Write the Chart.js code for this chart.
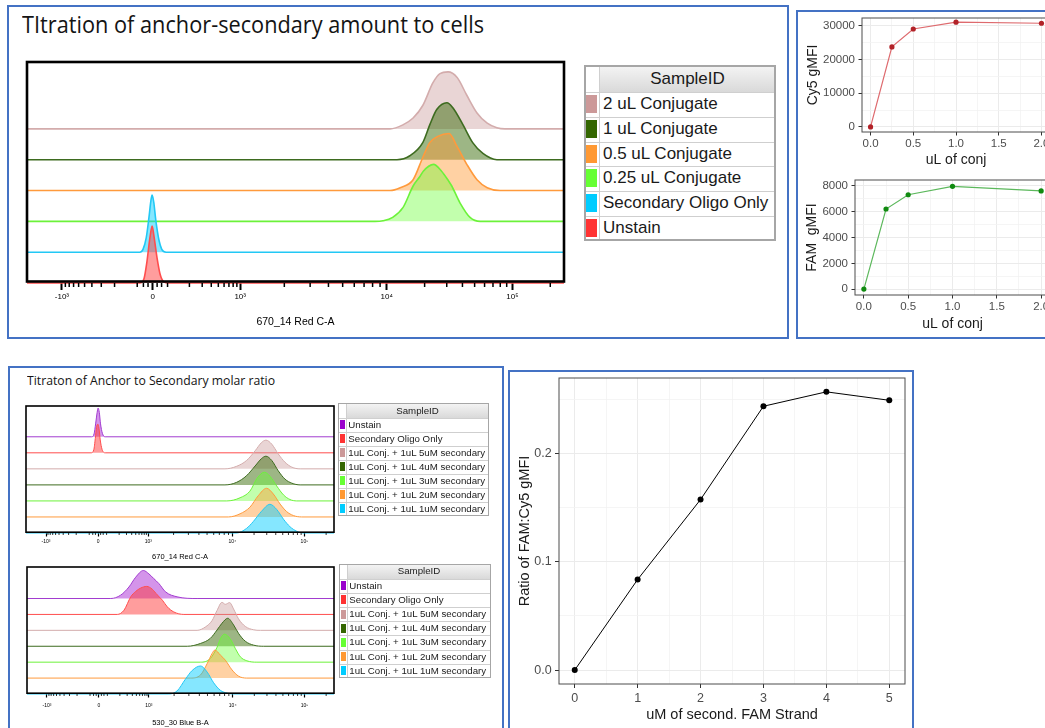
<!DOCTYPE html>
<html><head><meta charset="utf-8">
<script src="https://cdn.jsdelivr.net/npm/chart.js@4.4.1/dist/chart.umd.min.js"></script>
<style>
html,body{margin:0;padding:0;background:#fff;}
#page{position:relative;width:1045px;height:728px;overflow:hidden;background:#fff;font-family:'Liberation Sans',Arial,sans-serif;}
.box{position:absolute;box-sizing:border-box;border:2px solid #4472C4;}
canvas{position:absolute;}
.ttl{position:absolute;white-space:nowrap;font-family:'Open Sans',sans-serif;color:#141414;line-height:1;transform-origin:0 0;}
.lg{position:absolute;box-sizing:border-box;white-space:nowrap;}
</style></head>
<body><div id="page">
<div class="box" style="left:7px;top:5px;width:782px;height:334px"></div>
<div class="box" style="left:796px;top:10px;width:300px;height:329px"></div>
<div class="box" style="left:8px;top:366px;width:496px;height:400px"></div>
<div class="box" style="left:508px;top:370px;width:406px;height:400px"></div>
<div class="ttl" id="t1" style="left:22px;top:13px;font-size:23px">TItration of anchor-secondary amount to cells</div>
<div class="ttl" id="t2" style="left:27px;top:373.7px;font-size:13.5px">Titraton of Anchor to Secondary molar ratio</div>
</div>
<script>
// ===================== DATA =====================
// Flow histogram axis: display channels 0–1000 on a biexponential axis
const flowTickValues = [65, 234, 397, 670, 904];
const flowTickLabels = ['-10³', '0', '10³', '10⁴', '10⁵'];

// --- Top histogram: 670_14 Red C-A  (points: [channel, % of mode])
const topSampleIDs = ['2 uL Conjugate', '1 uL Conjugate', '0.5 uL Conjugate', '0.25 uL Conjugate', 'Secondary Oligo Only', 'Unstain'];
const top2uL = [[0,0],[676,0],[700,7],[719,19],[737,41],[756,81],[769,97],[784,100],[801,90],[819,59],[838,28],[857,10],[875,2],[890,0],[1000,0]];
const top1uL = [[0,0],[689,0],[713,7],[737,30],[750,61],[763,88],[782,100],[793,91],[812,61],[830,30],[849,11],[875,0],[1000,0]];
const top05uL = [[0,0],[676,0],[695,5],[719,19],[737,58],[750,84],[765,95],[786,100],[801,77],[819,46],[838,19],[857,5],[881,0],[1000,0]];
const top025uL = [[0,0],[648,0],[663,1],[681,7],[700,24],[719,62],[732,79],[738,88],[757,100],[772,88],[785,71],[791,62],[806,33],[825,7],[844,0],[1000,0]];
const topSecondary = [[0,0],[210,0],[216,5],[222,25],[227,60],[231,92],[233,100],[236,88],[240,55],[246,20],[251,5],[259,0],[1000,0]];
const topUnstain = [[0,0],[210,0],[218,8],[223,35],[229,80],[233,100],[236,85],[242,45],[248,15],[255,2],[263,0],[1000,0]];

// --- Bottom histograms: molar ratio titration
const ratioSampleIDs = ['Unstain', 'Secondary Oligo Only', '1uL Conj. + 1uL 5uM secondary', '1uL Conj. + 1uL 4uM secondary', '1uL Conj. + 1uL 3uM secondary', '1uL Conj. + 1uL 2uM secondary', '1uL Conj. + 1uL 1uM secondary'];
// 670_14 Red C-A
const redUnstain = [[0,0],[213,0],[221,10],[226,45],[231,85],[234,100],[238,85],[242,45],[248,12],[257,0],[1000,0]];
const redSecondary = [[0,0],[211,0],[220,10],[225,50],[229,88],[233,100],[237,85],[241,45],[247,12],[257,0],[1000,0]];
const red5uM = [[0,0],[646,0],[684,9],[716,29],[744,63],[765,92],[779,100],[798,86],[819,52],[841,23],[863,6],[890,0],[1000,0]];
const red4uM = [[0,0],[646,0],[684,9],[716,32],[744,66],[765,92],[779,100],[798,85],[819,49],[841,20],[863,6],[890,0],[1000,0]];
const red3uM = [[0,0],[652,0],[695,11],[727,34],[751,80],[774,100],[792,86],[814,52],[836,21],[857,5],[879,0],[1000,0]];
const red2uM = [[0,0],[657,0],[695,11],[727,34],[754,74],[781,100],[803,80],[825,45],[846,19],[868,5],[895,0],[1000,0]];
const red1uM = [[0,0],[684,0],[716,16],[738,40],[765,76],[792,100],[814,82],[836,48],[857,22],[879,6],[900,0],[1000,0]];
// 530_30 Blue B-A
const blueUnstain = [[0,0],[273,0],[305,12],[332,41],[354,76],[379,100],[397,88],[413,71],[430,53],[451,24],[489,6],[554,0],[1000,0]];
const blueSecondary = [[0,0],[294,0],[316,15],[338,63],[354,82],[370,94],[390,100],[408,90],[424,70],[441,51],[457,27],[478,9],[511,0],[1000,0]];
const blue5uM = [[0,0],[554,0],[581,12],[603,35],[619,71],[635,100],[646,93],[660,99],[673,76],[689,41],[711,14],[738,2],[760,0],[1000,0]];
const blue4uM = [[0,0],[522,0],[565,10],[597,28],[619,58],[635,82],[654,100],[673,76],[689,46],[711,18],[738,4],[771,0],[1000,0]];
const blue3uM = [[0,0],[565,0],[597,13],[619,53],[630,83],[643,100],[662,83],[679,48],[695,19],[716,5],[749,0],[1000,0]];
const blue2uM = [[0,0],[533,0],[565,11],[587,52],[603,88],[612,100],[630,82],[646,64],[668,29],[689,7],[716,0],[1000,0]];
const blue1uM = [[0,0],[462,0],[489,11],[516,53],[538,84],[565,100],[587,78],[608,40],[630,13],[652,3],[673,0],[1000,0]];

// --- gMFI summary plots
const conjAmounts = [0, 0.25, 0.5, 1, 2];
const cy5gMFI = [0, 23700, 29000, 31000, 30700];
const famgMFI = [20, 6200, 7300, 7950, 7600];
const conjTickLabels = ['0.0', '0.5', '1.0', '1.5', '2.0'];
const cy5TickLabels = ['0', '10000', '20000', '30000'];
const famTickLabels = ['0', '2000', '4000', '6000', '8000'];
// --- Ratio plot
const secondaryUM = [0, 1, 2, 3, 4, 5];
const famCy5Ratio = [0, 0.0837, 0.1576, 0.2438, 0.2571, 0.2493];
const uMTickLabels = ['0', '1', '2', '3', '4', '5'];
const ratioTickLabels = ['0.0', '0.1', '0.2'];

// ===================== STYLE =====================
const FONT = "'Liberation Sans', Arial, sans-serif";
const ST = {
  pink:   {line:'#D3ACAC', fill:'rgba(200,150,150,0.40)', sw:'#CC9999'},
  dkgreen:{line:'#3D6B1F', fill:'rgba(51,102,0,0.48)',   sw:'#336600'},
  orange: {line:'#FF9A3C', fill:'rgba(255,153,51,0.45)', sw:'#FF9933'},
  lgreen: {line:'#6CF23A', fill:'rgba(102,255,51,0.40)', sw:'#66FF33'},
  cyan:   {line:'#22C8F5', fill:'rgba(0,204,255,0.48)',  sw:'#00CCFF'},
  red:    {line:'#FF4D4D', fill:'rgba(255,51,51,0.48)',  sw:'#FF3333'},
  purple: {line:'#A23CD0', fill:'rgba(153,0,204,0.42)',  sw:'#9900CC'}
};

const page = document.getElementById('page');
function addCanvas(b) {
  const c = document.createElement('canvas');
  c.width = b.w; c.height = b.h;
  c.style.left = b.x + 'px'; c.style.top = b.y + 'px';
  c.style.width = b.w + 'px'; c.style.height = b.h + 'px';
  page.appendChild(c);
  return c;
}

function flowMinorTicks(t) {
  const [cn, c0, c3, c4, c5] = t;
  const out = [];
  const lin = 0.17;
  for (let k = 1; k <= 9; k++) {
    const f = k === 1 ? lin : lin + (1 - lin) * Math.log10(k);
    out.push(c0 + (c3 - c0) * f, c0 - (c0 - cn) * f);
  }
  [0.3, 0.6].forEach(f => out.push(c0 + (c3 - c0) * lin * f, c0 - (c0 - cn) * lin * f));
  for (let k = 2; k <= 9; k++) out.push(c3 + (c4 - c3) * Math.log10(k), c4 + (c5 - c4) * Math.log10(k));
  out.push(c5 + (c5 - c4) * Math.log10(2));
  return out.filter(v => v > 0 && v < 1000);
}

const flowFrame = {
  id: 'flowFrame',
  afterDraw(chart, args, o) {
    const {ctx, chartArea: a} = chart;
    const xs = chart.scales.x;
    ctx.save();
    ctx.strokeStyle = '#000';
    ctx.lineWidth = o.minorWidth;
    flowMinorTicks(flowTickValues).forEach(v => {
      const px = xs.getPixelForValue(v);
      ctx.beginPath(); ctx.moveTo(px, a.bottom); ctx.lineTo(px, a.bottom + o.minorLen); ctx.stroke();
    });
    ctx.lineWidth = o.frameWidth;
    ctx.strokeRect(a.left, a.top, a.right - a.left, a.bottom - a.top - o.inset);
    ctx.restore();
  }
};

function histogram(cfg) {
  const cv = addCanvas(cfg.box);
  new Chart(cv, {
    type: 'line',
    data: {datasets: cfg.series.map((s, i) => ({
      label: s.name,
      data: s.values.map(([x, p]) => ({x: x, y: i + p / 100 * cfg.peak})),
      borderColor: ST[s.color].line, backgroundColor: ST[s.color].fill,
      borderWidth: cfg.lw, fill: {value: i}, pointRadius: 0,
      cubicInterpolationMode: 'monotone', clip: 8
    }))},
    options: {
      animation: false, responsive: false, events: [], devicePixelRatio: 1,
      layout: {padding: cfg.pad},
      plugins: {legend: {display: false}, tooltip: {enabled: false},
        flowFrame: {minorLen: cfg.minorLen, minorWidth: cfg.minorWidth, frameWidth: cfg.frameWidth, inset: cfg.inset}},
      scales: {
        x: {type: 'linear', min: 0, max: 1000,
          afterBuildTicks: s => { s.ticks = flowTickValues.map(v => ({value: v})); },
          afterFit: s => { s.height = cfg.axisH; s.paddingLeft = 0; s.paddingRight = 0; },
          ticks: {autoSkip: false, maxRotation: 0, padding: cfg.tickPad, color: '#000',
            font: {family: FONT, size: cfg.tickFont}, callback: (v, i) => flowTickLabels[i]},
          grid: {drawOnChartArea: false, tickLength: cfg.tickLen, tickWidth: cfg.tickWidth, tickColor: '#000'},
          border: {display: false},
          title: {display: true, text: cfg.title, color: '#000', font: {family: FONT, size: cfg.titleFont},
            padding: {top: 0, bottom: cfg.titlePad}}
        },
        y: {display: false, min: 0, max: cfg.ymax}
      }
    },
    plugins: [flowFrame]
  });
}

const panelBorder = {
  id: 'panelBorder',
  afterDraw(chart) {
    const {ctx, chartArea: a} = chart;
    ctx.save(); ctx.strokeStyle = '#4D4D4D'; ctx.lineWidth = 1;
    ctx.strokeRect(a.left, a.top, a.right - a.left, a.bottom - a.top);
    ctx.restore();
  }
};

function ggChart(cfg) {
  const cv = addCanvas(cfg.box);
  const near = (list, v) => list.findIndex(m => Math.abs(m - v) < 1e-9);
  const axis = (a, pos) => ({
    type: 'linear', position: pos, min: a.min, max: a.max,
    afterBuildTicks: s => { s.ticks = a.major.concat(a.minor).sort((p, q) => p - q).map(v => ({value: v})); },
    afterFit: s => { if (pos === 'bottom') s.height = a.size; else s.width = a.size;
      s.paddingLeft = 0; s.paddingRight = 0; s.paddingTop = 0; s.paddingBottom = 0; },
    ticks: {autoSkip: false, maxRotation: 0, padding: a.pad, color: '#4D4D4D',
      font: {family: FONT, size: a.font},
      callback: v => { const i = near(a.major, v); return i < 0 ? '' : a.labels[i]; }},
    grid: {color: c => near(a.major, c.tick.value) >= 0 ? '#EBEBEB' : '#F3F3F3',
      lineWidth: c => near(a.major, c.tick.value) >= 0 ? 1 : 0.8,
      tickLength: a.tickLen, tickWidth: 1,
      tickColor: c => near(a.major, c.tick.value) >= 0 ? '#333333' : 'rgba(0,0,0,0)'},
    border: {display: false},
    title: {display: true, text: a.title, color: '#1A1A1A', font: {family: FONT, size: a.titleFont},
      padding: {top: a.titlePad, bottom: a.titlePad}}
  });
  new Chart(cv, {
    type: 'line',
    data: {datasets: [{
      data: cfg.xs.map((x, i) => ({x: x, y: cfg.ys[i]})),
      borderColor: cfg.line, borderWidth: cfg.lw, backgroundColor: cfg.point,
      pointBackgroundColor: cfg.point, pointBorderWidth: 0, pointRadius: cfg.pr,
      fill: false, tension: 0, clip: 6
    }]},
    options: {
      animation: false, responsive: false, events: [], devicePixelRatio: 1,
      layout: {padding: cfg.pad},
      plugins: {legend: {display: false}, tooltip: {enabled: false}},
      scales: {x: axis(cfg.x, 'bottom'), y: axis(cfg.y, 'left')}
    },
    plugins: [panelBorder]
  });
}

function box(x, y, w, h, css) {
  const d = document.createElement('div');
  d.className = 'lg';
  d.style.left = x + 'px'; d.style.top = y + 'px'; d.style.width = w + 'px'; d.style.height = h + 'px';
  Object.assign(d.style, css || {});
  page.appendChild(d);
  return d;
}

function sampleLegend(L, names, colors) {
  const h = L.head + names.length * L.row;
  box(L.x, L.y, L.w, h, {background: '#fff'});
  const hd = box(L.x + L.sw, L.y, L.w - L.sw, L.head, {background: 'linear-gradient(#F5F5F5,#D9D9D9)',
    textAlign: 'center', lineHeight: L.head + 'px', fontSize: L.font + 'px', color: '#1a1a1a'});
  hd.textContent = 'SampleID';
  names.forEach((n, i) => {
    const top = L.y + L.head + i * L.row;
    box(L.x, top, L.w, 1, {background: '#CFCFCF'});
    box(L.x + L.swIn, top + L.swTop, L.swW, L.swH, {background: ST[colors[i]].sw});
    const t = box(L.x + L.sw + L.txt, top, L.w - L.sw - L.txt, L.row,
      {lineHeight: L.row + 'px', fontSize: L.font + 'px', color: '#1a1a1a'});
    t.textContent = n;
  });
  box(L.x + L.sw, L.y, 1, h, {background: '#CFCFCF'});
  box(L.x, L.y, L.w, h, {border: L.bw + 'px solid #A6A6A6'});
}

// ===================== BUILD =====================
// Top histogram (bottom curve first so that it is drawn on top)
histogram({
  box: {x: 17, y: 52, w: 560, h: 285}, pad: {left: 10, top: 10, right: 13, bottom: 0},
  axisH: 54, ymax: 7.17, peak: 1.85, lw: 1.6,
  tickFont: 8, tickPad: 2, tickLen: 7, tickWidth: 2, minorLen: 4, minorWidth: 1.5, frameWidth: 2.6, inset: 1.5,
  title: '670_14 Red C-A', titleFont: 10.5, titlePad: 8.7,
  series: [
    {name: topSampleIDs[5], values: topUnstain, color: 'red'},
    {name: topSampleIDs[4], values: topSecondary, color: 'cyan'},
    {name: topSampleIDs[3], values: top025uL, color: 'lgreen'},
    {name: topSampleIDs[2], values: top05uL, color: 'orange'},
    {name: topSampleIDs[1], values: top1uL, color: 'dkgreen'},
    {name: topSampleIDs[0], values: top2uL, color: 'pink'}
  ]
});
sampleLegend({x: 584, y: 65, w: 192, sw: 15, head: 27, row: 24.8, font: 17, swIn: 2, swTop: 3, swW: 10.5, swH: 18, txt: 4, bw: 2},
  topSampleIDs, ['pink', 'dkgreen', 'orange', 'lgreen', 'cyan', 'red']);

const ratioColors = ['purple', 'red', 'pink', 'dkgreen', 'lgreen', 'orange', 'cyan'];
histogram({
  box: {x: 16, y: 396, w: 330, h: 165}, pad: {left: 10, top: 10, right: 12, bottom: 0},
  axisH: 28, ymax: 7.92, peak: 1.79, lw: 1,
  tickFont: 5, tickPad: 2.2, tickLen: 3.5, tickWidth: 1.2, minorLen: 2, minorWidth: 0.8, frameWidth: 1.6, inset: 0.8,
  title: '670_14 Red C-A', titleFont: 7.5, titlePad: 0,
  series: [
    {name: ratioSampleIDs[6], values: red1uM, color: 'cyan'},
    {name: ratioSampleIDs[5], values: red2uM, color: 'orange'},
    {name: ratioSampleIDs[4], values: red3uM, color: 'lgreen'},
    {name: ratioSampleIDs[3], values: red4uM, color: 'dkgreen'},
    {name: ratioSampleIDs[2], values: red5uM, color: 'pink'},
    {name: ratioSampleIDs[1], values: redSecondary, color: 'red'},
    {name: ratioSampleIDs[0], values: redUnstain, color: 'purple'}
  ]
});
histogram({
  box: {x: 16, y: 557, w: 330, h: 171}, pad: {left: 11, top: 10, right: 12, bottom: 0},
  axisH: 34, ymax: 7.98, peak: 1.76, lw: 1,
  tickFont: 5, tickPad: 5, tickLen: 3.5, tickWidth: 1.2, minorLen: 2, minorWidth: 0.8, frameWidth: 1.6, inset: 0.8,
  title: '530_30 Blue B-A', titleFont: 7.5, titlePad: 0.2,
  series: [
    {name: ratioSampleIDs[6], values: blue1uM, color: 'cyan'},
    {name: ratioSampleIDs[5], values: blue2uM, color: 'orange'},
    {name: ratioSampleIDs[4], values: blue3uM, color: 'lgreen'},
    {name: ratioSampleIDs[3], values: blue4uM, color: 'dkgreen'},
    {name: ratioSampleIDs[2], values: blue5uM, color: 'pink'},
    {name: ratioSampleIDs[1], values: blueSecondary, color: 'red'},
    {name: ratioSampleIDs[0], values: blueUnstain, color: 'purple'}
  ]
});
sampleLegend({x: 338, y: 402.7, w: 151, sw: 8, head: 15, row: 14.05, font: 9.7, swIn: 2, swTop: 2.3, swW: 5, swH: 9, txt: 2.3, bw: 1.5},
  ratioSampleIDs, ratioColors);
sampleLegend({x: 339, y: 564.3, w: 152, sw: 8, head: 14.7, row: 14.1, font: 9.7, swIn: 2, swTop: 2.3, swW: 5, swH: 9, txt: 2.3, bw: 1.5},
  ratioSampleIDs, ratioColors);

// Top-right: Cy5 gMFI
ggChart({
  box: {x: 800, y: 8, w: 260, h: 167}, pad: {left: 0, top: 10, right: 10, bottom: 0},
  xs: conjAmounts, ys: cy5gMFI, line: '#DE6A6E', point: '#B22228', lw: 1.2, pr: 2.6,
  x: {min: -0.1, max: 2.1, major: [0, 0.5, 1, 1.5, 2], minor: [0.25, 0.75, 1.25, 1.75], labels: conjTickLabels,
      size: 43, pad: 1, font: 11.5, tickLen: 3.5, title: 'uL of conj', titleFont: 14, titlePad: 6.6},
  y: {min: -1500, max: 32250, major: [0, 10000, 20000, 30000], minor: [5000, 15000, 25000], labels: cy5TickLabels,
      size: 62, pad: 3.5, font: 11.5, tickLen: 3.5, title: 'Cy5 gMFI', titleFont: 14, titlePad: 4.6}
});
// Top-right: FAM gMFI
ggChart({
  box: {x: 800, y: 172, w: 260, h: 165}, pad: {left: 0, top: 8, right: 10, bottom: 0},
  xs: conjAmounts, ys: famgMFI, line: '#5CB85C', point: '#108A10', lw: 1.2, pr: 2.6,
  x: {min: -0.1, max: 2.1, major: [0, 0.5, 1, 1.5, 2], minor: [0.25, 0.75, 1.25, 1.75], labels: conjTickLabels,
      size: 42, pad: 1, font: 11.5, tickLen: 3.5, title: 'uL of conj', titleFont: 14, titlePad: 4.3},
  y: {min: -440, max: 8440, major: [0, 2000, 4000, 6000, 8000], minor: [1000, 3000, 5000, 7000], labels: famTickLabels,
      size: 55, pad: 3.5, font: 11.5, tickLen: 3.5, title: 'FAM  gMFI', titleFont: 14, titlePad: 3.3}
});
// Bottom-right: ratio
ggChart({
  box: {x: 510, y: 372, w: 410, h: 356}, pad: {left: 0, top: 6, right: 15, bottom: 0},
  xs: secondaryUM, ys: famCy5Ratio, line: '#000', point: '#000', lw: 1, pr: 3,
  x: {min: -0.25, max: 5.25, major: [0, 1, 2, 3, 4, 5], minor: [0.5, 1.5, 2.5, 3.5, 4.5], labels: uMTickLabels,
      size: 44, pad: 2.8, font: 12.5, tickLen: 4, title: 'uM of second. FAM Strand', titleFont: 14.5, titlePad: 4.3},
  y: {min: -0.01285, max: 0.2699, major: [0, 0.1, 0.2], minor: [0.05, 0.15, 0.25], labels: ratioTickLabels,
      size: 49, pad: 3.3, font: 12.5, tickLen: 4, title: 'Ratio of FAM:Cy5 gMFI', titleFont: 14.5, titlePad: 6.3}
});

// Fit titles to the reference widths
function fitText(id, target) {
  const el = document.getElementById(id);
  const w = el.getBoundingClientRect().width;
  if (w > 0) el.style.transform = 'scaleX(' + (target / w) + ')';
}
fitText('t1', 462);
fitText('t2', 248);
</script>
</body></html>
